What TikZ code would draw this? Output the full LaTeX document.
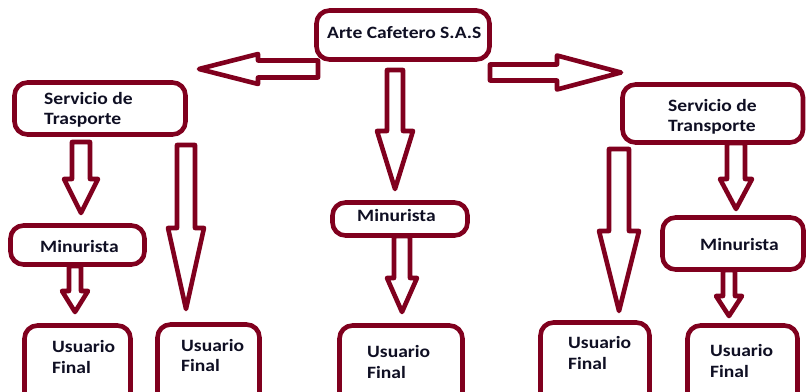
\documentclass[tikz,border=0pt]{standalone}
\usepackage{fontspec}
\setmainfont{Carlito}[FakeStretch=1.13]
\definecolor{burg}{RGB}{128,0,30}
\definecolor{ink}{RGB}{15,15,35}
\tikzset{
  box/.style={draw=burg, line width=4.6pt, rounded corners=13pt, inner sep=0pt, fill=white},
  lbl/.style={anchor=west, inner sep=0pt, text=ink, font=\bfseries\fontsize{17.3}{20.5}\selectfont, align=left},
  arr/.style={draw=burg, line width=4.6pt, fill=white, line join=round},
}
% vertical block arrow: name, cx, top, headbase, tip, shaft half, head half
\newcommand{\varrow}[7]{%
  \coordinate (#1-s) at (#2,#3);
  \coordinate (#1-t) at (#2,#5);
  \draw[arr] ($(#1-s)+(-#6,0)$) -- ($(#1-s)+(#6,0)$) -- (#2+#6,#4) -- (#2+#7,#4)
    -- (#1-t) -- (#2-#7,#4) -- (#2-#6,#4) -- cycle;}
% horizontal block arrow: name, cy, start x, headbase x, tip x, shaft half, head half
\newcommand{\harrow}[7]{%
  \coordinate (#1-s) at (#3,#2);
  \coordinate (#1-t) at (#5,#2);
  \draw[arr] ($(#1-s)+(0,-#6)$) -- ($(#1-s)+(0,#6)$) -- (#4,#2+#6) -- (#4,#2+#7)
    -- (#1-t) -- (#4,#2-#7) -- (#4,#2-#6) -- cycle;}
\usetikzlibrary{calc}
\begin{document}
\begin{tikzpicture}[x=1pt,y=-1pt]
\useasboundingbox (0,0) rectangle (806,391);
\clip (0,0) rectangle (806,391);
% arrows (drawn first, boxes on top)
\harrow{aL}{69}{318}{258}{199}{8.5}{15}
\harrow{aR}{72.5}{490}{557}{621}{8}{17}
\varrow{aM1}{395}{70}{131}{189}{8}{18}
\varrow{aM2}{402}{236}{278}{312}{8}{15}
\varrow{aL1}{81}{142}{179}{213}{9}{17}
\varrow{aL2}{186}{145}{228}{309}{9}{18}
\varrow{aL3}{75}{266}{291}{312}{6}{13}
\varrow{aR2}{619}{149}{231}{311}{10}{20}
\varrow{aR1}{736}{143}{179}{209}{9}{16}
\varrow{aR3}{729}{270}{296}{316}{6}{13}
% boxes
\node[box, minimum width=173pt, minimum height=49pt] (arte) at (403,35) {};
\node[box, minimum width=171pt, minimum height=52pt] (servL) at (100,108.5) {};
\node[box, minimum width=180.5pt, minimum height=58pt] (servR) at (712.75,113.5) {};
\node[box, minimum width=134pt, minimum height=39pt] (minL) at (77.5,245) {};
\node[box, minimum width=135pt, minimum height=33pt] (minM) at (400,219) {};
\node[box, minimum width=141pt, minimum height=52pt] (minR) at (733,243.5) {};
\node[box, minimum width=106pt, minimum height=90pt] (uf1) at (77.5,370.5) {};
\node[box, minimum width=102pt, minimum height=90pt] (uf2) at (208.5,369.5) {};
\node[box, minimum width=123pt, minimum height=90pt] (uf3) at (401,370.5) {};
\node[box, minimum width=109pt, minimum height=90pt] (uf4) at (595,367.5) {};
\node[box, minimum width=110pt, minimum height=90pt] (uf5) at (742.5,370.5) {};
% labels
\node[lbl] (tArte) at (327,33) {Arte Cafetero S.A.S};
\node[lbl] (tServL) at (44,110) {Servicio de\\Trasporte};
\node[lbl] (tServR) at (668,117) {Servicio de\\Transporte};
\node[lbl] (tMinL) at (40,246) {Minurista};
\node[lbl] (tMinM) at (357,215) {Minurista};
\node[lbl] (tMinR) at (700,244) {Minurista};
\node[lbl] (tUf1) at (52,357) {Usuario\\Final};
\node[lbl] (tUf2) at (181,355.5) {Usuario\\Final};
\node[lbl] (tUf3) at (367,362) {Usuario\\Final};
\node[lbl] (tUf4) at (568,353) {Usuario\\Final};
\node[lbl] (tUf5) at (710,361) {Usuario\\Final};
\end{tikzpicture}
\end{document}
